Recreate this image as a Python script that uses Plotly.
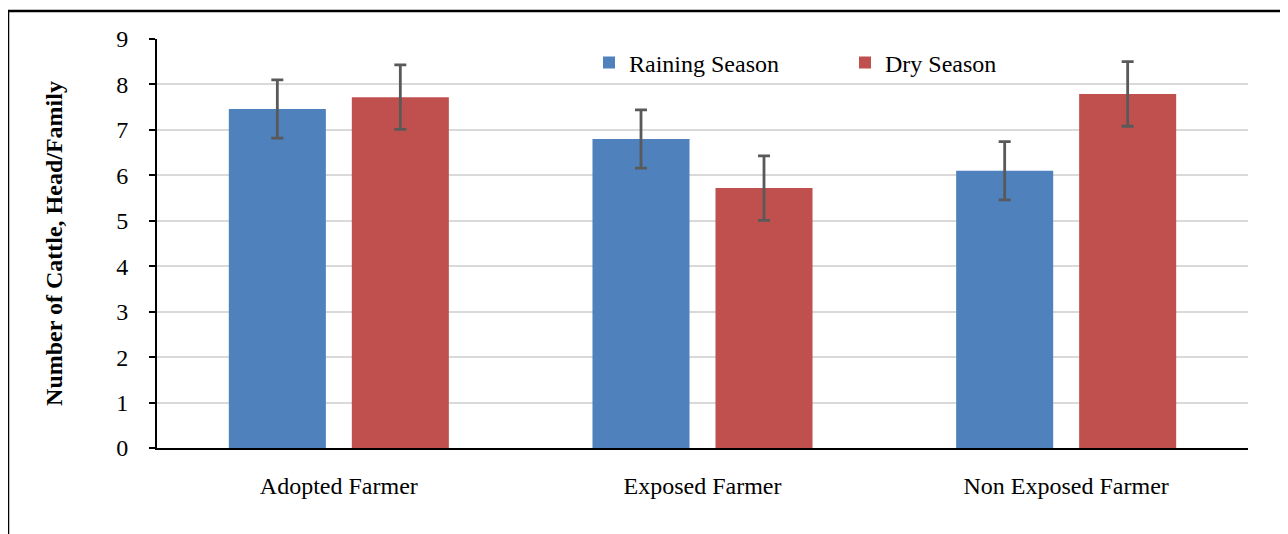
import plotly.graph_objects as go

categories = ["Adopted Farmer", "Exposed Farmer", "Non Exposed Farmer"]
raining = [7.46, 6.80, 6.10]
raining_err = [0.64, 0.64, 0.64]
dry = [7.72, 5.72, 7.79]
dry_err = [0.71, 0.71, 0.71]
y_ticks = list(range(0, 10))

FONT = "Liberation Serif, Times New Roman, serif"
err_style = dict(type="data", visible=True, color="#595959", thickness=2.8, width=6)

fig = go.Figure()
fig.add_trace(go.Bar(name="Raining Season", x=categories, y=raining,
                     marker=dict(color="#4f81bd", line=dict(width=0)),
                     error_y=dict(array=raining_err, **err_style)))
fig.add_trace(go.Bar(name="Dry Season", x=categories, y=dry,
                     marker=dict(color="#c0504d", line=dict(width=0)),
                     error_y=dict(array=dry_err, **err_style)))

# page body has an 8px margin; figure is offset by 8px
OFF = 8
W, H = 1288 - OFF, 534 - OFF
X0, X1, Y0, Y1 = 157, 1248, 39, 448  # plot area in page pixels
L, R, T, B = X0 - OFF, OFF + W - X1, Y0 - OFF, OFF + H - Y1
pw, ph = X1 - X0, Y1 - Y0

def px(x):
    return (x - X0) / pw

def py(y):
    return (Y1 - y) / ph

fig.update_layout(
    width=W, height=H,
    margin=dict(l=L, r=R, t=T, b=B),
    paper_bgcolor="white", plot_bgcolor="white",
    font=dict(family=FONT, size=24, color="black"),
    barmode="group", bargap=0.3236, bargroupgap=0.211,
    showlegend=True,
    legend=dict(orientation="h", x=px(589), y=py(63), xanchor="left", yanchor="middle",
                font=dict(family=FONT, size=24), bgcolor="rgba(0,0,0,0)",
                entrywidth=211, entrywidthmode="pixels", itemsizing="constant"),
    xaxis=dict(showline=True, linecolor="black", linewidth=2, ticks="",
               tickfont=dict(family=FONT, size=24), ticklabelstandoff=15),
    yaxis=dict(range=[0, 9], tickvals=y_ticks, showline=True, linecolor="black", linewidth=2,
               ticks="outside", ticklen=6, tickwidth=2, tickcolor="black",
               showgrid=True, gridcolor="#d9d9d9", gridwidth=2,
               tickfont=dict(family=FONT, size=24), zeroline=False, ticklabelstandoff=16,
               title=dict(text="<b>Number of Cattle, Head/Family</b>",
                          font=dict(family=FONT, size=24), standoff=47)),
    shapes=[
        dict(type="line", xref="paper", yref="paper", x0=px(8), x1=px(1300), y0=py(11), y1=py(11),
             line=dict(color="black", width=2.5)),
        dict(type="line", xref="paper", yref="paper", x0=px(8), x1=px(8), y0=py(11), y1=py(540),
             line=dict(color="black", width=2.5)),
    ],
)

fig.write_html("out.html")
